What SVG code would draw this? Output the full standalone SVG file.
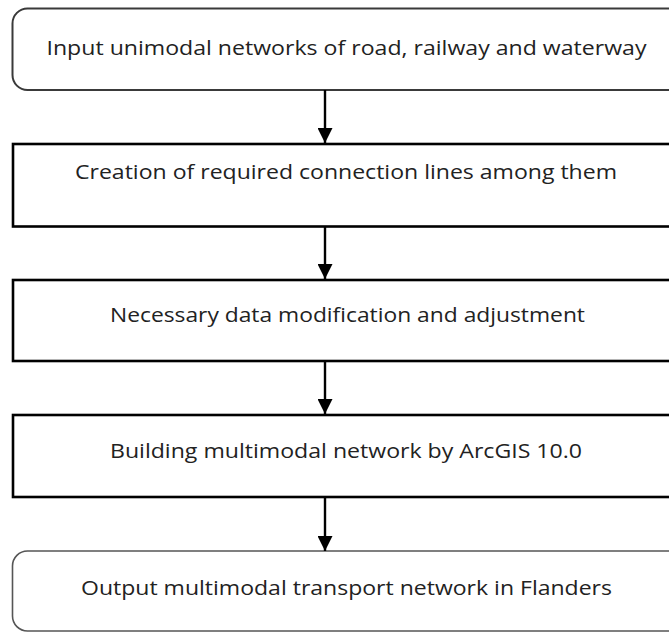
<svg xmlns="http://www.w3.org/2000/svg" width="669" height="632" viewBox="0 0 669 632">
<defs>
<marker id="ah" markerWidth="16" markerHeight="15" refX="16" refY="8" orient="auto" markerUnits="userSpaceOnUse" viewBox="0 0 16 16">
<path d="M0,0 L16,8 L0,16 Z" fill="#000"/>
</marker>
<style>
.t{font-family:"Open Sans","Liberation Sans",sans-serif;font-size:20.5px;fill:#222;text-anchor:middle}
.rb{fill:#fff;stroke:#3a3a3a;stroke-width:2}
.sb{fill:#fff;stroke:#000;stroke-width:2.6}
.c{stroke:#000;stroke-width:2.4;fill:none}
</style>
</defs>
<rect width="669" height="632" fill="#fff"/>
<g id="n1"><rect class="rb" x="12.5" y="8.5" width="680" height="81.5" rx="15"/><text class="t" x="346.5" y="55" textLength="600" lengthAdjust="spacingAndGlyphs">Input unimodal networks of road, railway and waterway</text></g>
<g id="n2"><rect class="sb" x="13" y="144" width="680" height="82.5"/><text class="t" x="346" y="179" textLength="542" lengthAdjust="spacingAndGlyphs">Creation of required connection lines among them</text></g>
<g id="n3"><rect class="sb" x="13" y="280" width="680" height="81"/><text class="t" x="347.5" y="322" textLength="475" lengthAdjust="spacingAndGlyphs">Necessary data modification and adjustment</text></g>
<g id="n4"><rect class="sb" x="13" y="415" width="680" height="82"/><text class="t" x="346" y="458" textLength="472" lengthAdjust="spacingAndGlyphs">Building multimodal network by ArcGIS 10.0</text></g>
<g id="n5"><rect class="rb" x="12.5" y="551" width="680" height="80" rx="15" style="stroke:#555;stroke-width:1.6"/><text class="t" x="346.5" y="595" textLength="531" lengthAdjust="spacingAndGlyphs">Output multimodal transport network in Flanders</text></g>
<g id="connectors">
<line class="c" x1="325" y1="90" x2="325" y2="143" marker-end="url(#ah)"/>
<line class="c" x1="325" y1="227" x2="325" y2="279" marker-end="url(#ah)"/>
<line class="c" x1="325" y1="362" x2="325" y2="414" marker-end="url(#ah)"/>
<line class="c" x1="325" y1="498" x2="325" y2="551" marker-end="url(#ah)"/>
</g>
</svg>
